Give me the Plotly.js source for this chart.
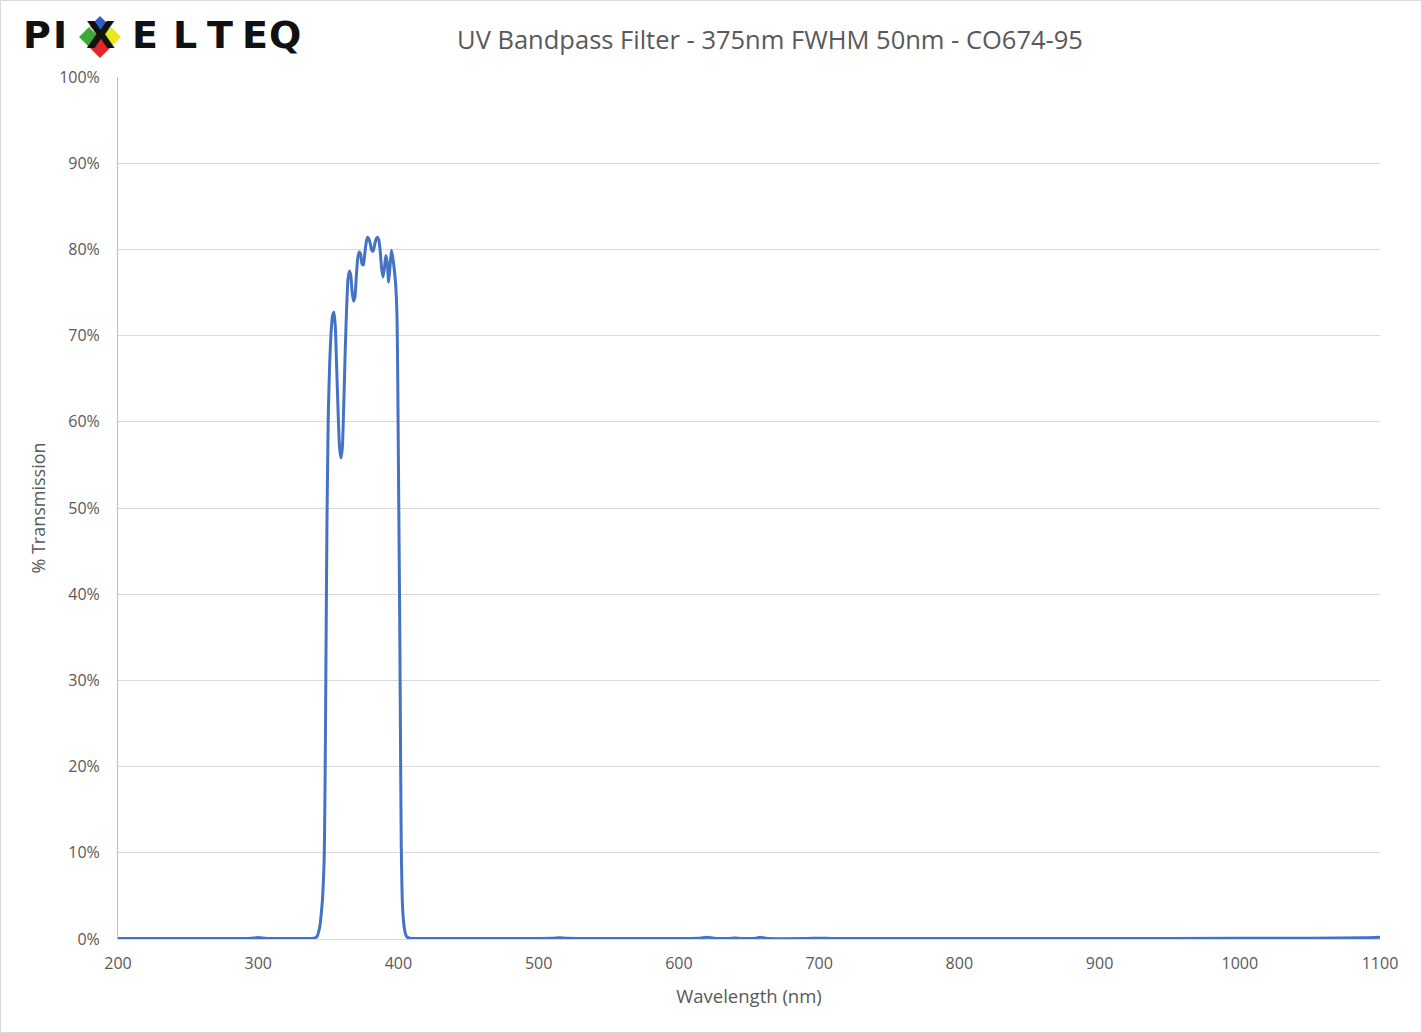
<!DOCTYPE html>
<html>
<head>
<meta charset="utf-8">
<script src="https://cdn.plot.ly/plotly-3.0.1.min.js"></script>
<style>
html,body{margin:0;padding:0;background:#fff;}
#chart{width:1422px;height:1033px;}
</style>
</head>
<body>
<div id="chart"></div>
<script>
const chartTitle = "UV Bandpass Filter - 375nm FWHM 50nm - CO674-95";
const xTitle = "Wavelength (nm)";
const yTitle = "% Transmission";
const logoLetters = ["P", "I", "X", "E", "L", "T", "E", "Q"];

const wavelength = [
  200, 250, 290, 295, 300, 305, 310, 320, 330, 335, 338, 340, 342, 343, 344, 345, 346, 347, 347.5, 348, 348.5, 349, 349.5, 350,
  351, 352, 353, 354, 355, 356, 357, 358, 359, 360, 361, 362, 363, 364, 365, 366, 367, 368, 369, 370,
  371, 372, 373, 374, 375, 376, 377, 378, 379, 380, 381, 382, 383, 384, 385, 386, 387, 388, 389, 390,
  391, 392, 393, 394, 395, 396, 397, 398, 399, 399.5, 400, 400.5, 401, 401.5, 402, 402.5, 403, 404, 405, 406, 408, 410,
  420, 430, 450, 480, 500, 510, 515, 520, 550, 600, 615, 620, 625, 635, 640, 645, 655, 658, 662, 690, 700, 710,
  750, 800, 900, 1000, 1050, 1090, 1100
];
const transmission = [
  0.05, 0.05, 0.05, 0.08, 0.18, 0.08, 0.05, 0.05, 0.05, 0.05, 0.06, 0.1, 0.3, 0.8, 1.5, 3, 5, 9, 15, 25, 37, 48, 55, 61,
  67, 70.5, 72.3, 72.7, 71, 66, 61, 57, 55.8, 57, 62, 68, 73, 76.5, 77.5, 77, 75, 74, 74.5, 77,
  79, 79.7, 79.5, 78.3, 78.2, 79.5, 80.8, 81.4, 81.2, 80.6, 79.9, 79.8, 80.5, 81.2, 81.4, 81.1, 79.8, 77.8, 76.8, 77.8,
  79.3, 78.5, 76.2, 78, 79.9, 79, 77.7, 76, 72, 65, 55, 45, 35, 22, 11, 6, 3.5, 1.5, 0.6, 0.25, 0.08, 0.05,
  0.05, 0.05, 0.05, 0.05, 0.06, 0.08, 0.15, 0.08, 0.05, 0.06, 0.08, 0.2, 0.08, 0.06, 0.12, 0.06, 0.08, 0.2, 0.08, 0.05, 0.1, 0.05,
  0.05, 0.05, 0.05, 0.08, 0.1, 0.15, 0.2
];
const yTickVals = [0, 10, 20, 30, 40, 50, 60, 70, 80, 90, 100];
const yTickText = ["0%", "10%", "20%", "30%", "40%", "50%", "60%", "70%", "80%", "90%", "100%"];
const xTickVals = [200, 300, 400, 500, 600, 700, 800, 900, 1000, 1100];
const xTickText = ["200", "300", "400", "500", "600", "700", "800", "900", "1000", "1100"];

// pixel -> paper helpers (plot area: x 118..1380, y 77..939)
const L = 118, R = 1380, T = 77, B = 939;
const px = p => (p - L) / (R - L);
const py = p => (B - p) / (B - T);

function diamond(cx, cy, h, color) {
  return {
    type: 'path', xref: 'paper', yref: 'paper', layer: 'above',
    path: `M ${px(cx)},${py(cy - h)} L ${px(cx + h)},${py(cy)} L ${px(cx)},${py(cy + h)} L ${px(cx - h)},${py(cy)} Z`,
    fillcolor: color, line: {width: 0}
  };
}

const shapes = [
  {type: 'rect', xref: 'paper', yref: 'paper', x0: px(0.5), x1: px(1421.5), y0: py(1032.5), y1: py(0.5),
   line: {color: '#d9d9d9', width: 1}, layer: 'below'},
  diamond(100, 26, 10, '#2f5fc4'),
  diamond(89, 37, 10, '#3aa935'),
  diamond(111, 37, 10, '#f2e41c'),
  diamond(100, 48, 10, '#e52528')
];

const letterX = [37, 60, 100, 145, 185, 220, 255, 285];
const annotations = logoLetters.map((ch, i) => ({
  text: ch, xref: 'paper', yref: 'paper', x: px(letterX[i]), y: py(35),
  xanchor: 'center', yanchor: 'middle', showarrow: false,
  font: {family: 'DejaVu Sans', size: 38, color: '#111', weight: 'bold'}
}));

const trace = {
  x: wavelength, y: transmission, type: 'scatter', mode: 'lines',
  line: {color: '#4472C4', width: 3, shape: 'spline', smoothing: 0.5},
  hoverinfo: 'x+y'
};

const layout = {
  width: 1422, height: 1033,
  margin: {l: L, r: 1422 - R, t: T, b: 1033 - B},
  paper_bgcolor: '#ffffff', plot_bgcolor: '#ffffff',
  showlegend: false,
  font: {family: 'Open Sans, Noto Sans, sans-serif', color: '#595959'},
  title: {text: chartTitle, x: 770 / 1422, xanchor: 'center', y: 1 - 40 / 1033, yanchor: 'middle',
          font: {size: 25.5, color: '#595959'}},
  xaxis: {
    range: [200, 1100], tickvals: xTickVals, ticktext: xTickText, showgrid: false, zeroline: false,
    showline: true, linecolor: '#d9d9d9', linewidth: 1,
    ticks: 'outside', ticklen: 10, tickcolor: 'rgba(0,0,0,0)',
    tickfont: {size: 16, color: '#595959'},
    title: {text: xTitle, font: {size: 18.5, color: '#595959'}, standoff: 16}
  },
  yaxis: {
    range: [0, 100], tickvals: yTickVals, ticktext: yTickText, showgrid: true, gridcolor: '#d9d9d9', gridwidth: 1,
    zeroline: false, showline: true, linecolor: '#bfbfbf', linewidth: 1,
    ticks: 'outside', ticklen: 14, tickcolor: 'rgba(0,0,0,0)',
    tickfont: {size: 16, color: '#595959'},
    title: {text: yTitle, font: {size: 18, color: '#595959'}, standoff: 8}
  },
  shapes: shapes,
  annotations: annotations
};

Plotly.newPlot('chart', [trace], layout, {displayModeBar: false, staticPlot: true});
</script>
</body>
</html>
